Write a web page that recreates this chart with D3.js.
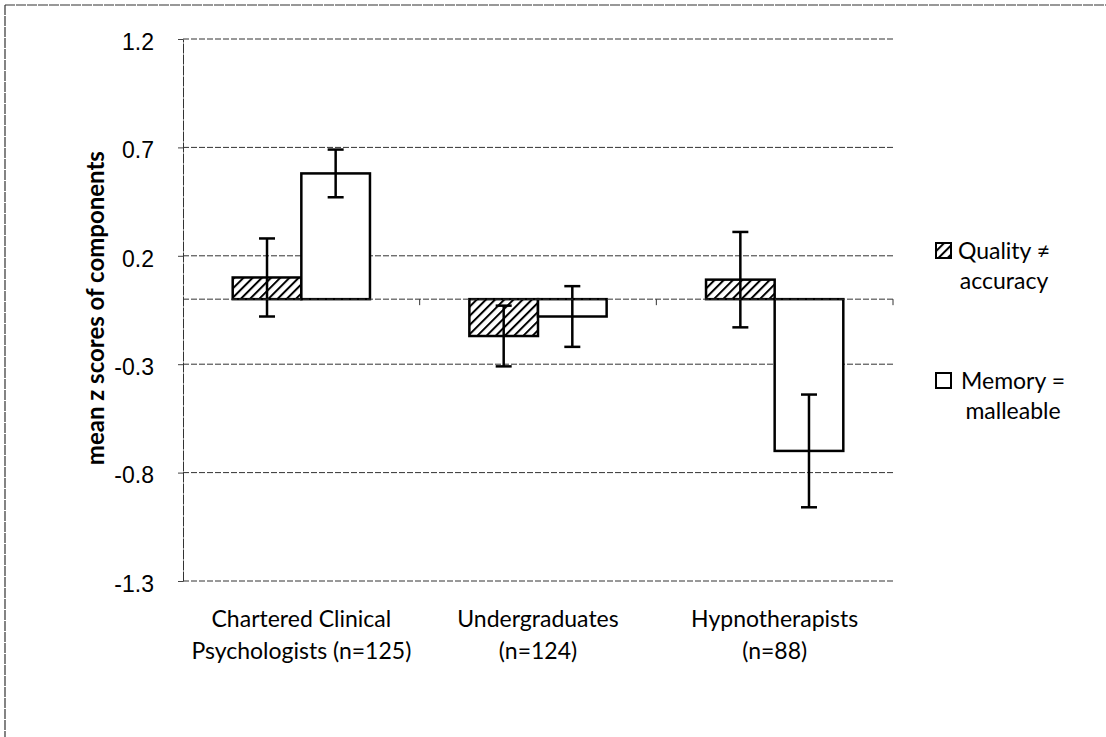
<!DOCTYPE html>
<html>
<head>
<meta charset="utf-8">
<script src="https://cdn.jsdelivr.net/npm/d3@7"></script>
<style>
  body { margin: 0; background: #fff; }
  svg { display: block; font-family: Lato, "Noto Sans", sans-serif; }
</style>
</head>
<body>
<div id="chart"></div>
<script>
// chart values
const categories = ['Chartered Clinical Psychologists (n=125)', 'Undergraduates (n=124)', 'Hypnotherapists (n=88)'];
const categoryLines = [['Chartered Clinical', 'Psychologists (n=125)'], ['Undergraduates', '(n=124)'], ['Hypnotherapists', '(n=88)']];
const seriesNames = ['Quality ≠ accuracy', 'Memory = malleable'];
const legendLines = [['Quality ≠', 'accuracy'], ['Memory =', 'malleable']];
const quality = [0.10, -0.17, 0.09];
const qualityErr = [0.18, 0.14, 0.22];
const memory = [0.58, -0.08, -0.70];
const memoryErr = [0.11, 0.14, 0.26];
const yTicks = [1.2, 0.7, 0.2, -0.3, -0.8, -1.3];

const W = 1106, H = 737;
const margin = { top: 39, right: 213, bottom: 156, left: 183 };
const width = W - margin.left - margin.right;
const height = H - margin.top - margin.bottom;

const data = categories.map((c, i) => ({
  cat: c,
  vals: [
    { s: 0, v: quality[i], e: qualityErr[i] },
    { s: 1, v: memory[i], e: memoryErr[i] }
  ]
}));

const svg = d3.select('#chart').append('svg')
  .attr('width', W)
  .attr('height', H);

// hatch pattern for first series
const defs = svg.append('defs');
const pat = defs.append('pattern')
  .attr('id', 'hatch')
  .attr('patternUnits', 'userSpaceOnUse')
  .attr('width', 6.5).attr('height', 6.5)
  .attr('patternTransform', 'rotate(45)');
pat.append('rect').attr('width', 6.5).attr('height', 6.5).attr('fill', '#fff');
pat.append('line')
  .attr('x1', 0).attr('y1', 0).attr('x2', 0).attr('y2', 6.5)
  .attr('stroke', '#000').attr('stroke-width', 4);

// outer frame (top and left edges visible in the scan)
svg.append('line').attr('x1', 5).attr('y1', 5).attr('x2', W).attr('y2', 5)
  .attr('stroke', '#333').attr('stroke-width', 1.2).attr('stroke-dasharray', '10,1');
svg.append('line').attr('x1', 5).attr('y1', 5).attr('x2', 5).attr('y2', H)
  .attr('stroke', '#333').attr('stroke-width', 1.2).attr('stroke-dasharray', '10,1');

const g = svg.append('g')
  .attr('transform', 'translate(' + margin.left + ',' + margin.top + ')');

const x0 = d3.scaleBand()
  .domain(categories)
  .range([0, width])
  .paddingInner(0.42)
  .paddingOuter(0.21);

const x1 = d3.scaleBand()
  .domain([0, 1])
  .range([0, x0.bandwidth()]);

const y = d3.scaleLinear()
  .domain([-1.3, 1.2])
  .range([height, 0]);

// gridlines
g.append('g')
  .selectAll('line')
  .data(yTicks)
  .enter().append('line')
  .attr('x1', 0).attr('x2', width)
  .attr('y1', d => y(d)).attr('y2', d => y(d))
  .attr('stroke', '#333')
  .attr('stroke-width', 1)
  .attr('stroke-dasharray', '6,2');

// y axis
const fmt = d => d3.format('.1f')(d).replace('−', '-');
const yAxis = g.append('g')
  .call(d3.axisLeft(y).tickValues(yTicks).tickSize(5).tickSizeOuter(0).tickFormat(fmt));
yAxis.select('.domain').attr('stroke', '#333').attr('stroke-dasharray', '10,1');
yAxis.selectAll('.tick line').attr('stroke', '#444');
yAxis.selectAll('text')
  .attr('x', -29)
  .attr('dy', '0.45em')
  .style('font-size', '23px')
  .attr('fill', '#000');

// bars
const groups = g.selectAll('.grp')
  .data(data)
  .enter().append('g')
  .attr('class', 'grp')
  .attr('transform', d => 'translate(' + x0(d.cat) + ',0)');

groups.selectAll('rect')
  .data(d => d.vals)
  .enter().append('rect')
  .attr('x', d => x1(d.s))
  .attr('y', d => y(Math.max(0, d.v)))
  .attr('width', x1.bandwidth())
  .attr('height', d => Math.abs(y(d.v) - y(0)))
  .attr('fill', d => d.s === 0 ? 'url(#hatch)' : '#fff')
  .attr('stroke', '#000')
  .attr('stroke-width', 2.5);

// category axis along zero
const xAxis = g.append('g')
  .attr('transform', 'translate(0,' + y(0) + ')');
xAxis.append('line')
  .attr('x1', 0).attr('x2', width)
  .attr('stroke', '#333').attr('stroke-dasharray', '6,2');
xAxis.selectAll('.sep')
  .data(categories)
  .enter().append('line')
  .attr('x1', d => x0(d) + x0.bandwidth() + x0.step() * x0.paddingInner() / 2)
  .attr('x2', d => x0(d) + x0.bandwidth() + x0.step() * x0.paddingInner() / 2)
  .attr('y1', 0).attr('y2', 6)
  .attr('stroke', '#333');

// error bars
const cap = 8;
groups.selectAll('.err')
  .data(d => d.vals)
  .enter().append('g')
  .attr('class', 'err')
  .each(function (d) {
    const cx = x1(d.s) + x1.bandwidth() / 2;
    const e = d3.select(this);
    e.append('line').attr('x1', cx).attr('x2', cx)
      .attr('y1', y(d.v + d.e)).attr('y2', y(d.v - d.e));
    e.append('line').attr('x1', cx - cap).attr('x2', cx + cap)
      .attr('y1', y(d.v + d.e)).attr('y2', y(d.v + d.e));
    e.append('line').attr('x1', cx - cap).attr('x2', cx + cap)
      .attr('y1', y(d.v - d.e)).attr('y2', y(d.v - d.e));
  })
  .selectAll('line')
  .attr('stroke', '#000')
  .attr('stroke-width', 2.5);

// category labels
const labels = g.selectAll('.catlabel')
  .data(categories)
  .enter().append('text')
  .attr('class', 'catlabel')
  .attr('text-anchor', 'middle')
  .attr('x', d => x0(d) + x0.bandwidth() / 2)
  .attr('y', height + 46)
  .style('font-size', '23px')
  .attr('fill', '#000');
labels.selectAll('tspan')
  .data((d, i) => categoryLines[i])
  .enter().append('tspan')
  .attr('x', function () { return d3.select(this.parentNode).attr('x'); })
  .attr('dy', (d, i) => i === 0 ? 0 : 32)
  .text(d => d);

// y axis title
g.append('text')
  .attr('transform', 'rotate(-90)')
  .attr('x', -(y(0) + 9))
  .attr('y', -79)
  .attr('text-anchor', 'middle')
  .style('font-size', '24px')
  .style('font-weight', 'bold')
  .attr('fill', '#000')
  .text('mean z scores of components');

// legend
const legendBase = [259, 389];
const legendCenter = [1004, 1013];
seriesNames.forEach((name, i) => {
  const item = svg.append('g').attr('class', 'legend-item');
  item.append('rect')
    .attr('x', 936).attr('y', legendBase[i] - 16)
    .attr('width', 15).attr('height', 15)
    .attr('fill', i === 0 ? 'url(#hatch)' : '#fff')
    .attr('stroke', '#000').attr('stroke-width', 2);
  const t = item.append('text')
    .attr('text-anchor', 'middle')
    .style('font-size', '23px')
    .attr('fill', '#000');
  t.append('tspan').attr('x', legendCenter[i]).attr('y', legendBase[i]).text(legendLines[i][0]);
  t.append('tspan').attr('x', legendCenter[i]).attr('y', legendBase[i] + 30).text(legendLines[i][1]);
});
</script>
</body>
</html>
